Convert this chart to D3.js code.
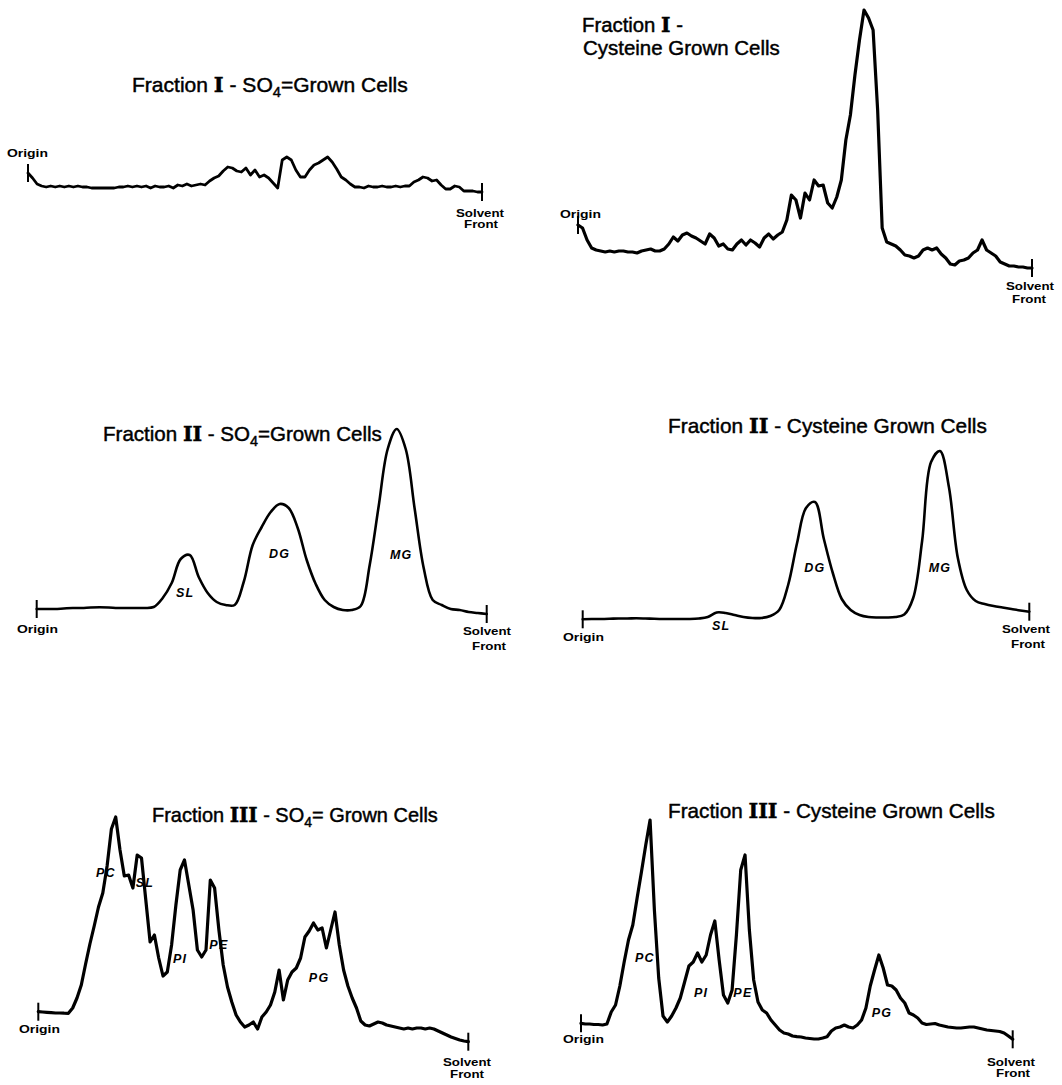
<!DOCTYPE html>
<html lang="en">
<head>
<meta charset="UTF-8">
<title>Radiochromatogram scans, Fractions I-III</title>
<script src="https://d3js.org/d3.v7.min.js"></script>
<style>
  body { margin: 0; background: #fff; }
  svg { display: block; background: #fff; }
  .trace { fill: none; stroke: #000; stroke-linejoin: round; stroke-linecap: round; }
  .endtick { stroke: #000; stroke-width: 2; }
  .title { font-family: "Liberation Sans", Arial, sans-serif; font-size: 21px; fill: #000; stroke: #000; stroke-width: 0.45px; }
  .num { font-family: "DejaVu Serif", "Liberation Serif", serif; font-weight: bold; }
  .end-label { font-family: "Liberation Sans", Arial, sans-serif; font-weight: bold; font-size: 11px; fill: #000; }
  .peak { font-family: "Liberation Sans", Arial, sans-serif; font-style: italic; font-weight: bold; font-size: 12.5px; letter-spacing: 1.2px; fill: #000; }
</style>
</head>
<body>
<svg width="1062" height="1085"></svg>
<script>
// distance run, % of the way from origin to solvent front
var rfFine = d3.range(0, 101, 1);
var rfCoarse = d3.range(0, 101, 2);

// radioactivity (arbitrary units)
var frac1So4 = [27,22,16,14,13,14,13,14,13,14,13,
  14,13,13,12,12,12,12,12,12,13,
  13,14,13,14,13,14,12,14,13,13,
  14,12,15,14,16,14,15,16,15,19,
  22,24,29,33,32,29,28,32,25,30,
  23,25,22,17,12,40,43,40,30,23,
  23,30,35,37,40,43,38,31,23,20,
  16,13,13,12,14,13,13,14,13,13,
  14,13,14,14,18,20,23,22,19,20,
  15,11,11,14,13,9,9,9,8,8];

var frac1Cys = [55,52,40,32,30,29,28,29,28,29,29,
  28,28,27,29,30,31,29,29,31,36,
  43,39,45,47,44,42,39,36,46,42,
  34,36,31,30,36,40,35,40,37,33,
  42,46,41,45,48,60,85,80,62,87,
  80,100,94,95,77,72,83,100,140,165,
  205,240,270,262,250,170,52,38,36,34,
  30,25,24,22,24,30,32,30,32,26,
  22,16,15,19,20,22,27,30,40,30,
  27,24,18,16,14,14,13,13,12,12];

var frac2So4 = [11,11,11,11.5,12,12,12.5,12.7,12.5,12,
  12,12,12,13,22,37,61,65,43,27,
  18,15,15,38,75,93,108,116,112,92,
  60,36,20,13,10,10,14,55,114,171,
  191,171,111,52,20,15,11,10,8,7,
  6];

var frac2Cys = [5.7,6,6,6.2,6.5,6.5,6.7,6.5,6.2,6,
  6,6,6,6.5,8,12.5,12,10,8,7,
  7,9,15,40,82,117,123,86,52,26,
  15,10,8,7.5,7.5,8,10.5,27,84,163,
  174,138,67,35,24,21,19,17.5,16,14.5,
  13.3];

var frac3So4 = [38.3,38,37.7,37.4,37,37,36.8,36.7,42,52,65,
  86,106,124,143,157,184,221,233,200,174,
  175,162,195,192,150,108,115,92,74,78,
  105,145,180,190,165,140,100,93,100,170,
  162,120,85,63,48,35,28,23,25,28,
  21,33,38,45,58,80,50,70,78,82,
  92,113,119,127,120,122,102,120,138,105,
  80,64,52,42,29,25,24,26,28,27,
  25,24,23,22,21,22,21,22,22,21,
  22,21,19,17,15,13,11.5,10,9,8.3];

var frac3Cys = [26.7,26,26,25.5,25.5,25,26,38,45,64,88,
  110,125,152,178,205,230,140,72,34,28,
  34,42,52,68,84,88,97,88,95,115,
  129,90,55,47,60,115,180,195,120,70,
  48,40,37,30,25,20,17,16,14,13.3,
  13,12,11.5,11,11,12,13.3,19,22,23,
  25,23,22,25,30,42,64,80,95,82,
  65,64,60,52,47,37,35,32,27,25.5,
  26,26.5,25,24,23,22.5,22,22,22.5,23,
  23,22,21,20,19.5,19,18.5,17,14,10.7];

// peak names for the labelled scans
var peaks2So4 = ["SL", "DG", "MG"];
var peaks2Cys = ["SL", "DG", "MG"];
var peaks3So4 = ["PC", "SL", "PI", "PE", "PG"];
var peaks3Cys = ["PC", "PI", "PE", "PG"];

var svg = d3.select("svg");

// layout of the six scans; peaks are [rf %, label level]
var panels = [
  { values: frac1So4, rf: rfFine, x0: 28, x1: 482, floor: 200, curve: d3.curveLinear, width: 2.8,
    title: [{ parts: [["Fraction "], ["I", "num"], [" - SO"], ["4", "sub"], ["=Grown Cells"]], x: 132, y: 92, len: 276 }],
    origin: [7, 157], solvent: [480, 217], front: [481, 228], peaks: [] },
  { values: frac1Cys, rf: rfFine, x0: 578, x1: 1032, floor: 280, curve: d3.curveLinear, width: 3.2,
    title: [{ parts: [["Fraction "], ["I", "num"], [" -"]], x: 582, y: 32, len: 101 },
            { parts: [["Cysteine Grown Cells"]], x: 583, y: 55, len: 197 }],
    origin: [560, 218], solvent: [1030, 290], front: [1029, 303], peaks: [] },
  { values: frac2So4, rf: rfCoarse, x0: 36.7, x1: 486.7, floor: 620, curve: d3.curveCatmullRom, width: 2.6,
    title: [{ parts: [["Fraction "], ["II", "num"], [" - SO"], ["4", "sub"], ["=Grown Cells"]], x: 103, y: 441, len: 279 }],
    origin: [17, 633], solvent: [487, 635], front: [489, 650],
    peaks: [[33, 23], [54, 62], [81, 61]], names: peaks2So4 },
  { values: frac2Cys, rf: rfCoarse, x0: 582.7, x1: 1029.3, floor: 625, curve: d3.curveCatmullRom, width: 2.6,
    title: [{ parts: [["Fraction "], ["II", "num"], [" - Cysteine Grown Cells"]], x: 668, y: 433, len: 319 }],
    origin: [563, 641], solvent: [1026, 633], front: [1028, 648],
    peaks: [[31, -5], [52, 53], [80, 53]], names: peaks2Cys },
  { values: frac3So4, rf: rfFine, x0: 38.3, x1: 468.3, floor: 1050, curve: d3.curveLinear, width: 3.2,
    title: [{ parts: [["Fraction "], ["III", "num"], [" - SO"], ["4", "sub"], ["= Grown Cells"]], x: 152, y: 822, len: 286 }],
    origin: [19, 1033], solvent: [467, 1066], front: [467, 1078],
    peaks: [[15.7, 173], [24.8, 163], [33, 87], [42, 101], [65.3, 68]], names: peaks3So4 },
  { values: frac3Cys, rf: rfFine, x0: 581, x1: 1012.7, floor: 1050, curve: d3.curveLinear, width: 3.2,
    title: [{ parts: [["Fraction "], ["III", "num"], [" - Cysteine Grown Cells"]], x: 668, y: 818, len: 327 }],
    origin: [563, 1043], solvent: [1011, 1066], front: [1013, 1077],
    peaks: [[14.8, 88], [27.8, 53], [37.5, 53], [69.7, 33]], names: peaks3Cys }
];

// title line; font size is scaled so the line spans len pixels
function addTitleLine(g, line) {
  var t = g.append("text").attr("class", "title")
    .attr("x", line.x).attr("y", line.y);
  var lowered = false;
  line.parts.forEach(function(p) {
    var s = t.append("tspan").text(p[0]);
    if (p[1] === "num") s.attr("class", "num");
    if (p[1] === "sub") {
      s.attr("font-size", "70%").attr("dy", "0.35em");
      lowered = true;
    } else if (lowered) {
      s.attr("dy", "-0.245em");
      lowered = false;
    }
  });
  var w = t.node().getComputedTextLength();
  t.style("font-size", (21 * line.len / w) + "px");
}

panels.forEach(function(p) {
  var x = d3.scaleLinear().domain([0, 100]).range([p.x0, p.x1]);
  var y = d3.scaleLinear().domain([0, 100]).range([p.floor, p.floor - 100]);
  var g = svg.append("g");

  var line = d3.line()
    .x(function(d, i) { return x(p.rf[i]); })
    .y(function(d) { return y(d); })
    .curve(p.curve);

  g.append("path").attr("class", "trace")
    .attr("stroke-width", p.width)
    .attr("d", line(p.values));

  // end marks at origin and solvent front
  var first = p.values[0], last = p.values[p.values.length - 1];
  g.append("line").attr("class", "endtick")
    .attr("x1", x(0)).attr("x2", x(0))
    .attr("y1", y(first) - 9).attr("y2", y(first) + 9);
  g.append("line").attr("class", "endtick")
    .attr("x1", x(100)).attr("x2", x(100))
    .attr("y1", y(last) - 9).attr("y2", y(last) + 9);

  p.title.forEach(function(l) { addTitleLine(g, l); });

  g.append("text").attr("class", "end-label")
    .attr("x", p.origin[0]).attr("y", p.origin[1])
    .attr("textLength", 41).attr("lengthAdjust", "spacingAndGlyphs")
    .text("Origin");
  g.append("text").attr("class", "end-label").attr("text-anchor", "middle")
    .attr("x", p.solvent[0]).attr("y", p.solvent[1])
    .attr("textLength", 48).attr("lengthAdjust", "spacingAndGlyphs")
    .text("Solvent");
  g.append("text").attr("class", "end-label").attr("text-anchor", "middle")
    .attr("x", p.front[0]).attr("y", p.front[1])
    .attr("textLength", 34).attr("lengthAdjust", "spacingAndGlyphs")
    .text("Front");

  p.peaks.forEach(function(pk, i) {
    g.append("text").attr("class", "peak").attr("text-anchor", "middle")
      .attr("x", x(pk[0])).attr("y", y(pk[1]))
      .text(p.names[i]);
  });
});
</script>
</body>
</html>
